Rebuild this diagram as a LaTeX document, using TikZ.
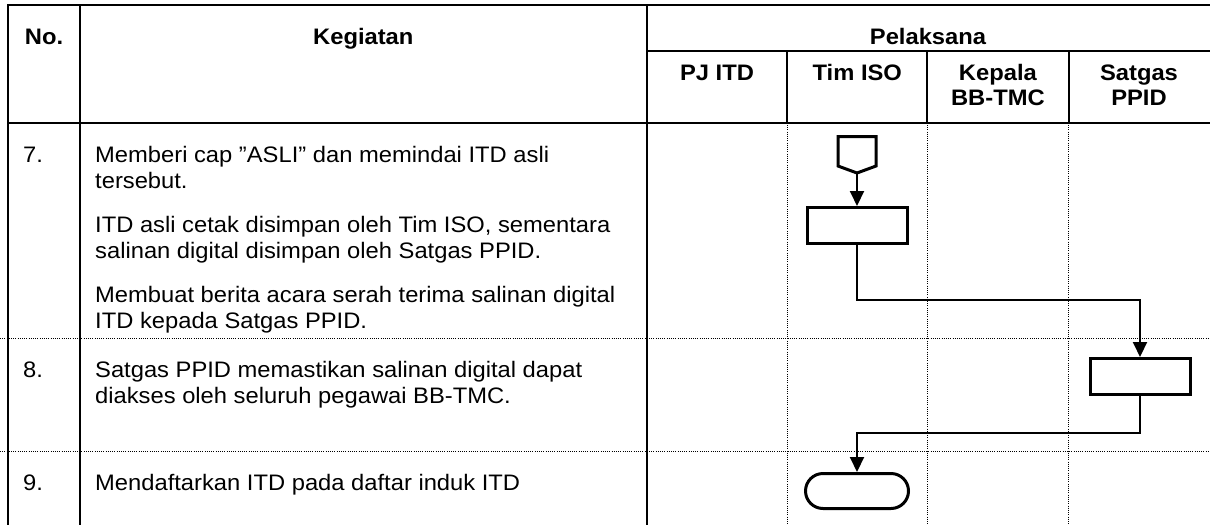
\documentclass[tikz,border=0pt]{standalone}
\usepackage{fontspec}
\setmainfont{Liberation Sans}[FakeStretch=1.06]
\usetikzlibrary{arrows.meta}
\begin{document}
\begin{tikzpicture}[x=1pt,y=-1pt,
  tbl/.style={line width=2pt},
  dotline/.style={line width=0.9pt, dash pattern=on 1pt off 1.2pt},
  hdr/.style={font=\bfseries\fontsize{22.4}{25}\selectfont, inner sep=0pt, anchor=base},
  body/.style={font=\fontsize{22.4}{26}\selectfont, align=left, inner sep=0pt, anchor=base west},
  shp/.style={draw, line width=3pt, fill=white, inner sep=0pt},
  flow/.style={line width=2pt, -{Triangle[width=14pt,length=15pt]}}]
\useasboundingbox (0,0) rectangle (1210,525);
% table frame
\draw[tbl] (8,5) -- (1210,5);
\draw[tbl] (646.7,50.7) -- (1210,50.7);
\draw[tbl] (8,122.7) -- (1210,122.7);
\draw[tbl] (8,4) -- (8,525);
\draw[tbl] (80,5) -- (80,525);
\draw[tbl] (646.7,5) -- (646.7,525);
\foreach \cx in {787.3,927.3,1068.5}{
  \draw[tbl] (\cx,50.7) -- (\cx,122.7);
  \draw[dotline] (\cx,122.7) -- (\cx,525);
}
\draw[dotline] (0,338.3) -- (1210,338.3);
\draw[dotline] (0,451) -- (1210,451);
% header text
\node[hdr] (hno) at (44,44) {No.};
\node[hdr] (hkeg) at (363.3,44) {Kegiatan};
\node[hdr] (hpel) at (928,44) {Pelaksana};
\node[hdr] (hpj) at (717,80) {PJ ITD};
\node[hdr] (htim) at (857.3,80) {Tim ISO};
\node[hdr] (hkep1) at (997.9,80) {Kepala};
\node[hdr] (hkep2) at (997.9,105) {BB-TMC};
\node[hdr] (hsat1) at (1139,80) {Satgas};
\node[hdr] (hsat2) at (1139,105) {PPID};
% rows (base anchor of a two-line node is its last line)
\node[body] (n7) at (23,162) {7.};
\node[body] (p7a) at (95,188) {Memberi cap ”ASLI” dan memindai ITD asli\\tersebut.};
\node[body] (p7b) at (95,258) {ITD asli cetak disimpan oleh Tim ISO, sementara\\salinan digital disimpan oleh Satgas PPID.};
\node[body] (p7c) at (95,328) {Membuat berita acara serah terima salinan digital\\ITD kepada Satgas PPID.};
\node[body] (n8) at (23,377) {8.};
\node[body] (p8) at (95,403) {Satgas PPID memastikan salinan digital dapat\\diakses oleh seluruh pegawai BB-TMC.};
\node[body] (n9) at (23,490) {9.};
\node[body] (p9) at (95,490) {Mendaftarkan ITD pada daftar induk ITD};
% flow shapes
\draw[shp] (838,136.7) -- (876,136.7) -- (876,166) -- (857,173) -- (838,166) -- cycle;
\coordinate (offtip) at (857,173);
\node[shp, minimum width=100pt, minimum height=36pt] (r1) at (857,225.5) {};
\node[shp, minimum width=100pt, minimum height=36pt] (r2) at (1140,376.5) {};
\node[shp, rounded corners=17.5pt, minimum width=103pt, minimum height=35pt] (t1) at (857,491) {};
% connectors
\draw[flow] (offtip) -- (r1.north);
\draw[flow] (r1.south) -- ++(0,55) -| (r2.north);
\draw[flow] (r2.south) -- ++(0,37.3) -| (t1.north);
\end{tikzpicture}
\end{document}
